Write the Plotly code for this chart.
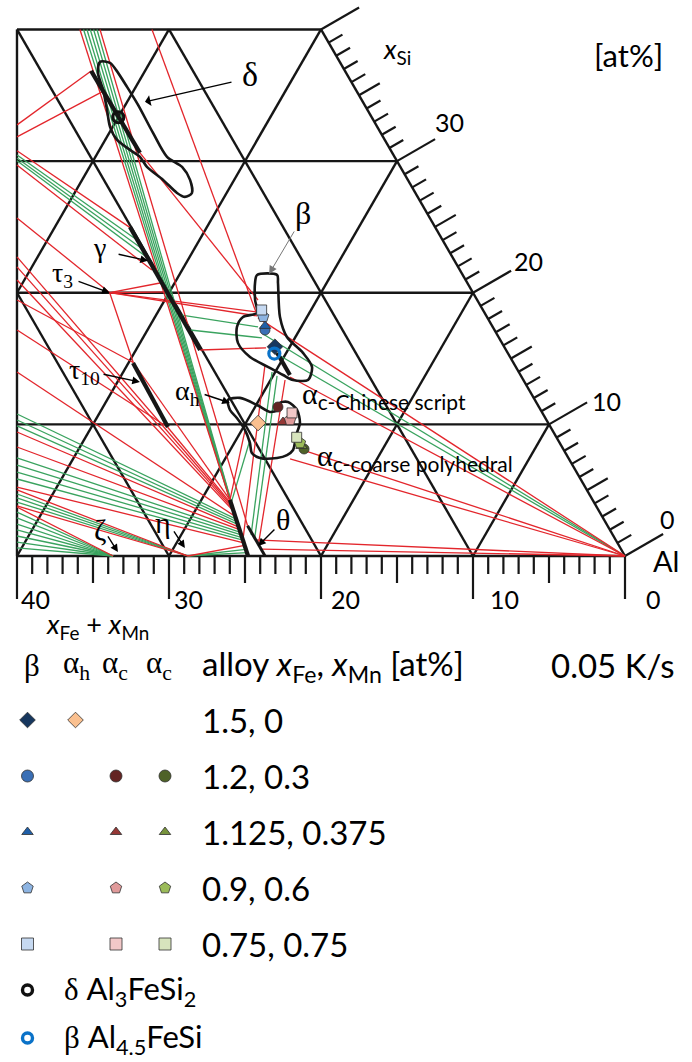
import math
import plotly.graph_objects as go

SERIF = "Liberation Serif"
SANS = "Lato"
RED = "#e3262c"
GREEN = "#3aa35f"
INK = "#161616"
H = math.sqrt(3) / 2


def tern(f, s):
    """(x_Fe + x_Mn, x_Si) in at% -> position in the drawing plane."""
    return f + s / 2.0, s * H


# ---------------- composition data, at% : (x_Fe + x_Mn, x_Si) ----------------
# three-phase triangle edges
red_lines = [
    (15.86, 40.0, 23.86, 4.26), (14.54, 40.0, 23.68, 2.30),
    (11.12, 40.0, 15.01, 18.54), (16.60, 30.62, 14.42, 19.45),
    (23.62, 32.75, 16.70, 36.85), (24.08, 31.84, 16.78, 35.26),
    (24.61, 30.78, 20.01, 24.85), (25.15, 29.71, 20.26, 21.73),
    (27.16, 25.68, 23.90, 20.00), (23.90, 20.00, 20.22, 20.74),
    (23.90, 20.00, 20.04, 20.06), (23.90, 20.00, 25.00, 14.70),
    (23.90, 20.00, 14.94, 18.54), (23.90, 20.00, 15.09, 18.24),
    (20.13, 15.65, 15.71, 15.81), (15.10, 18.09, 0.0, 0.0),
    (15.24, 13.60, 0.0, 0.0), (30.27, 19.45, 25.00, 14.70),
    (31.41, 17.17, 25.20, 9.80), (25.00, 14.70, 23.86, 4.26),
    (25.20, 9.80, 23.92, 4.00), (28.64, 22.72, 23.96, 3.80),
    (29.02, 21.96, 24.01, 3.60), (29.51, 20.97, 24.05, 3.40),
    (33.01, 13.98, 24.14, 3.00), (35.29, 9.42, 24.31, 2.20),
    (35.86, 8.28, 24.36, 2.00), (37.38, 5.24, 24.58, 1.00),
    (37.49, 5.02, 28.75, 0.0), (38.10, 3.80, 28.75, 0.0),
    (38.14, 3.72, 33.68, 0.0), (28.75, 0.0, 24.62, 0.80),
    (23.73, 1.22, 0.0, 0.0), (23.62, 0.53, 0.0, 0.0),
    (16.43, 14.51, 24.54, 1.20), (15.68, 13.37, 23.60, 1.00),
    (20.21, 9.57, 23.86, 4.26), (17.16, 8.05, 0.0, 0.0),
    (18.35, 7.37, 0.0, 0.0),
]

# two-phase tie lines
green_lines = [
    (15.62, 40.0, 23.93, 3.95), (15.40, 40.0, 24.01, 3.60),
    (15.18, 40.0, 24.08, 3.25), (14.96, 40.0, 24.16, 2.90),
    (14.74, 40.0, 24.24, 2.55),
    (24.76, 30.47, 20.10, 24.01), (24.88, 30.24, 20.14, 23.40),
    (24.99, 30.02, 20.18, 22.80),
    (20.12, 18.31, 15.44, 17.40), (20.03, 17.17, 15.60, 16.57),
    (15.38, 16.87, 0.0, 0.0), (15.53, 15.65, 0.0, 0.0),
    (34.60, 10.79, 24.18, 2.80), (34.83, 10.33, 24.23, 2.60),
    (35.06, 9.88, 24.27, 2.40), (36.28, 7.45, 24.40, 1.80),
    (36.54, 6.91, 24.45, 1.60), (36.81, 6.38, 24.49, 1.40),
    (37.07, 5.85, 24.54, 1.20),
    (37.64, 4.71, 28.75, 0.0), (37.80, 4.41, 28.75, 0.0),
    (37.95, 4.10, 28.75, 0.0),
    (38.33, 3.34, 33.68, 0.0), (38.56, 2.89, 33.68, 0.0),
    (38.78, 2.43, 33.68, 0.0), (39.01, 1.98, 33.68, 0.0),
    (39.24, 1.52, 33.68, 0.0), (39.47, 1.06, 33.68, 0.0),
    (39.70, 0.61, 33.68, 0.0),
    (28.75, 0.0, 24.69, 0.50), (28.75, 0.0, 24.74, 0.25),
    (16.23, 13.98, 23.80, 1.60), (16.05, 13.68, 23.72, 1.30),
    (20.27, 8.81, 23.92, 4.00),
]

# homogeneity ranges of the intermetallic phases
phase_lines = {
    "delta": (16.70, 36.85, 16.60, 30.62),
    "gamma": (20.07, 25.00, 20.13, 15.65),
    "tau10": (25.03, 14.67, 25.17, 9.80),
    "beta": (15.17, 15.43, 15.17, 13.75),
    "theta": (23.86, 4.26, 24.80, 0.0),
}
theta2_line = (23.68, 2.30, 23.68, 0.0)

# measured composition ranges (outlines)
delta_f = [15.77, 15.15, 15.02, 14.94, 14.90, 14.98, 14.97, 14.36, 14.33, 14.70,
           15.31, 15.68, 16.10, 16.67, 16.75, 17.14, 17.61, 17.58, 17.13, 16.63, 16.32, 15.77]
delta_s = [37.54, 37.46, 36.93, 35.64, 34.27, 32.14, 30.32, 29.56, 28.57, 27.58,
           27.28, 27.58, 28.57, 29.56, 30.32, 30.85, 31.61, 32.60, 33.89, 35.41, 36.70, 37.54]
beta_f = [13.53, 12.21, 12.46, 13.62, 13.92, 13.47, 13.41, 14.17, 15.15, 15.62,
          16.22, 17.11, 17.37, 16.83, 16.05, 14.98, 14.61, 13.97, 13.53]
beta_s = [21.35, 21.35, 20.74, 18.16, 16.64, 15.43, 14.36, 13.37, 13.37, 13.75,
          14.29, 15.12, 16.19, 17.40, 18.16, 18.47, 19.45, 20.74, 21.35]
alpha_f = [20.19, 19.33, 18.47, 17.89, 17.28, 16.89, 16.32, 16.03, 16.33, 16.91, 17.38,
           17.81, 18.40, 19.17, 20.29, 20.63, 20.38, 20.21, 20.29, 20.44, 20.19]
alpha_s = [11.85, 12.01, 11.47, 10.94, 11.09, 11.63, 11.70, 11.09, 10.11, 9.35, 8.66,
           8.05, 7.67, 7.45, 7.45, 7.83, 8.59, 9.57, 10.49, 11.09, 11.85]

# alloys x_Fe, x_Mn and the measured phase compositions
alloys = ["1.5, 0", "1.2, 0.3", "1.125, 0.375", "0.9, 0.6", "0.75, 0.75"]
symbols = ["diamond", "circle", "triangle-up", "pentagon", "square"]
beta_fe = [15.08, 15.10, 14.94, 14.71, 14.56]
beta_si = [15.90, 17.17, 17.48, 18.18, 18.69]
beta_col = ["#17375e", "#3a6fb5", "#1f5fa8", "#8db4e2", "#c6d9f1"]
ah_fe = [19.09, None, None, None, None]
ah_si = [10.10, None, None, None, None]
ah_col = ["#fac08f", None, None, None, None]
acs_fe = [None, 17.17, 17.41, 16.87, 16.47]
acs_si = [None, 11.32, 10.18, 10.33, 10.87]
acs_col = [None, "#632523", "#953735", "#e09a9a", "#f2c8c8"]
acp_fe = [None, 17.05, 17.10, 17.09, 17.09]
acp_si = [None, 8.13, 8.36, 8.59, 9.02]
acp_col = [None, "#4f6228", "#77933c", "#9bbb59", "#d7e4bd"]
delta_ref = (16.67, 33.33)   # Al3FeSi2
beta_ref = (15.38, 15.38)    # Al4.5FeSi
DELTA_COL = "#111111"
BETA_REF_COL = "#0a72c8"

fig = go.Figure()


def add_segments(segs, color, width):
    xs, ys = [], []
    for f1, s1, f2, s2 in segs:
        x1, y1 = tern(f1, s1)
        x2, y2 = tern(f2, s2)
        xs += [x1, x2, None]
        ys += [y1, y2, None]
    fig.add_trace(go.Scatter(x=xs, y=ys, mode="lines", line=dict(color=color, width=width),
                             hoverinfo="skip", showlegend=False))


# ---------------- triangular grid clipped to the shown window ----------------
grid = []
for s in range(0, 41, 10):
    grid.append((0, s, 40 - s / 2.0, s))
for f in (10, 20, 30):
    grid.append((f, 0, f, min(40, 2 * (40 - f))))
for c in (10, 20, 30, 40, 50):
    s0, s1 = max(0, 2 * (c - 40)), min(c, 40)
    grid.append((c - s0, s0, c - s1, s1))
grid.append((40, 0, 20, 40))
grid.append((0, 0, 0, 40))
add_segments(grid, INK, 2.4)

# tick marks on the x_Fe + x_Mn axis and on the x_Si axis
ticks_b, ticks_r = [], []
for v in range(0, 41):
    L = 43 if v % 10 == 0 else (27 if v % 5 == 0 else 18)
    ticks_b.append((v, L))
    Lr = 44 if v % 10 == 0 else (24 if v % 5 == 0 else 16)
    ticks_r.append((v, Lr))
xs, ys = [], []
for v, L in ticks_b:
    x0, y0 = tern(v, 0)
    xs += [x0, x0, None]
    ys += [y0, y0 - L / 15.2, None]
for v, L in ticks_r:
    x0, y0 = tern(0, v)
    xs += [x0, x0 - math.cos(math.pi / 6) * L / 15.2, None]
    ys += [y0, y0 + 0.5 * L / 15.2, None]
fig.add_trace(go.Scatter(x=xs, y=ys, mode="lines", line=dict(color=INK, width=2.2),
                         hoverinfo="skip", showlegend=False))

# tie lines
add_segments(green_lines, GREEN, 1.3)
add_segments(red_lines, RED, 1.3)

# phase ranges
add_segments(list(phase_lines.values()), INK, 4.2)
add_segments([theta2_line], INK, 3.0)

for ff, ss in ((delta_f, delta_s), (beta_f, beta_s), (alpha_f, alpha_s)):
    pts = [tern(a, b) for a, b in zip(ff, ss)]
    fig.add_trace(go.Scatter(x=[p[0] for p in pts], y=[p[1] for p in pts], mode="lines",
                             line=dict(color=INK, width=2.6, shape="spline", smoothing=0.8),
                             hoverinfo="skip", showlegend=False))


def add_markers(fe, si, cols, size):
    for f, s, c, sym in zip(fe, si, cols, symbols):
        if f is None:
            continue
        x, y = tern(f, s)
        fig.add_trace(go.Scatter(x=[x], y=[y], mode="markers", showlegend=False, hoverinfo="skip",
                                 marker=dict(symbol=sym, size=size + (2 if sym in ("diamond", "pentagon") else 0),
                                             color=c, line=dict(color="#303030", width=0.8))))


add_markers(beta_fe, beta_si, beta_col, 10)
add_markers(ah_fe, ah_si, ah_col, 10)
add_markers(acs_fe, acs_si, acs_col, 10)
add_markers(acp_fe, acp_si, acp_col, 10)

for (f, s), col in ((delta_ref, DELTA_COL), (beta_ref, BETA_REF_COL)):
    x, y = tern(f, s)
    fig.add_trace(go.Scatter(x=[x], y=[y], mode="markers", showlegend=False, hoverinfo="skip",
                             marker=dict(symbol="circle-open", size=11, color=col,
                                         line=dict(color=col, width=3.2))))

# ---------------- labels and arrows inside the diagram ----------------
ann = []


def label(f, s, text, size, family=SERIF, **kw):
    x, y = tern(f, s)
    ann.append(dict(x=x, y=y, xref="x", yref="y", text=text, showarrow=False,
                    font=dict(size=size, family=family, color="black"), **kw))


def arrow(f0, s0, f1, s1, color="black", width=1.4, head=2, size=1.1):
    x0, y0 = tern(f0, s0)
    x1, y1 = tern(f1, s1)
    ann.append(dict(x=x1, y=y1, ax=x0, ay=y0, xref="x", yref="y", axref="x", ayref="y",
                    text="", showarrow=True, arrowhead=head, arrowsize=size, arrowwidth=width,
                    arrowcolor=color, standoff=0, startstandoff=0))


label(6.39, 36.55, "δ", 34)
arrow(7.78, 36.02, 14.33, 34.50, head=1, size=1.3)
label(8.15, 26.06, "β", 32)
arrow(9.32, 24.77, 12.70, 21.43, color="#777777", width=1.0, head=2, size=1.6)
label(22.84, 23.40, "γ", 28)
arrow(21.94, 22.95, 20.17, 22.42)
label(26.36, 21.35, "τ<sub>3</sub>", 28)
arrow(25.60, 20.90, 23.90, 20.00)
label(28.54, 13.98, "τ<sub>10</sub>", 28)
arrow(27.49, 13.83, 25.30, 13.22)
label(22.56, 12.39, "α<sub>h</sub>", 28)
arrow(21.60, 12.31, 20.18, 11.63)
label(29.10, 2.58, "η", 30)
arrow(28.75, 1.98, 28.65, 0.61)
label(21.13, 2.74, "θ", 30)
arrow(21.90, 2.13, 23.76, 0.76)
label(33.55, 1.98, "ζ", 30)
arrow(33.28, 1.60, 33.21, 0.30)
label(15.26, 12.23, "α<span style='font-family:Lato'><sub>c-Chinese script</sub></span>", 30,
      xanchor="left")
label(16.67, 7.45, "α<span style='font-family:Lato'><sub>c-coarse polyhedral</sub></span>", 30,
      xanchor="left")

# ---------------- axis labels and legend (page pixel frame) ----------------


def ptext(x, y, text, size, family=SANS, anchor="left"):
    ann.append(dict(x=x, y=y, xref="x2", yref="y2", text=text, showarrow=False, xanchor=anchor,
                    yanchor="middle", font=dict(size=size, family=family, color="black")))


ptext(628, 55, "[at%]", 31, anchor="center")
ptext(381, 50, "<i>x</i><sub>Si</sub>", 27)
ptext(44, 625, "<i>x</i><sub>Fe</sub> + <i>x</i><sub>Mn</sub>", 27)
for txt, x, y in (("30", 433, 122), ("20", 512, 261), ("10", 590, 401), ("0", 658, 519)):
    ptext(x, y, txt, 25)
ptext(651, 560, "Al", 29)
for txt, x in (("40", 19), ("30", 172), ("20", 329), ("10", 488), ("0", 644)):
    ptext(x, 599, txt, 25)

SER = "<span style='font-family:Liberation Serif'>"
HEAD_Y = 665
ptext(32, HEAD_Y, "β", 31, family=SERIF, anchor="center")
ptext(76, HEAD_Y, "α<sub>h</sub>", 31, family=SERIF, anchor="center")
ptext(115, HEAD_Y, "α<sub>c</sub>", 31, family=SERIF, anchor="center")
ptext(159, HEAD_Y, "α<sub>c</sub>", 31, family=SERIF, anchor="center")
ptext(200, HEAD_Y, "alloy <i>x</i><sub>Fe</sub>, <i>x</i><sub>Mn</sub> [at%]", 33)
ptext(549, HEAD_Y, "0.05 K/s", 33)

col_x = [27.5, 75.5, 116, 165]
for i, name in enumerate(alloys):
    yrow = 720 + 56 * i
    ptext(200, yrow, name, 33)
    for cx, cols in zip(col_x, (beta_col, ah_col, acs_col, acp_col)):
        if cols[i] is None:
            continue
        sym = symbols[i]
        fig.add_trace(go.Scatter(x=[cx], y=[yrow], xaxis="x2", yaxis="y2", mode="markers",
                                 showlegend=False, hoverinfo="skip",
                                 marker=dict(symbol=sym, size=12 if sym != "triangle-up" else 10,
                                             color=cols[i], line=dict(color="#303030", width=0.8))))

for yrow, col, txt in ((990, DELTA_COL, "δ</span> Al<sub>3</sub>FeSi<sub>2</sub>"),
                       (1038, BETA_REF_COL, "β</span> Al<sub>4.5</sub>FeSi")):
    fig.add_trace(go.Scatter(x=[27.5], y=[yrow], xaxis="x2", yaxis="y2", mode="markers",
                             showlegend=False, hoverinfo="skip",
                             marker=dict(symbol="circle-open", size=10, color=col,
                                         line=dict(color=col, width=3.4))))
    ptext(62, yrow, SER + txt, 31)

fig.update_layout(
    width=692, height=1062, margin=dict(l=0, r=0, t=0, b=0),
    paper_bgcolor="white", plot_bgcolor="rgba(0,0,0,0)",
    xaxis=dict(range=[41.118, -4.408], visible=False, domain=[0, 1]),
    yaxis=dict(range=[-33.289, 36.579], visible=False, domain=[0, 1]),
    xaxis2=dict(range=[0, 692], visible=False, domain=[0, 1], anchor="y2"),
    yaxis2=dict(range=[1062, 0], visible=False, domain=[0, 1], anchor="x2"),
    annotations=ann,
    showlegend=False,
)
fig.write_html("out.html")
